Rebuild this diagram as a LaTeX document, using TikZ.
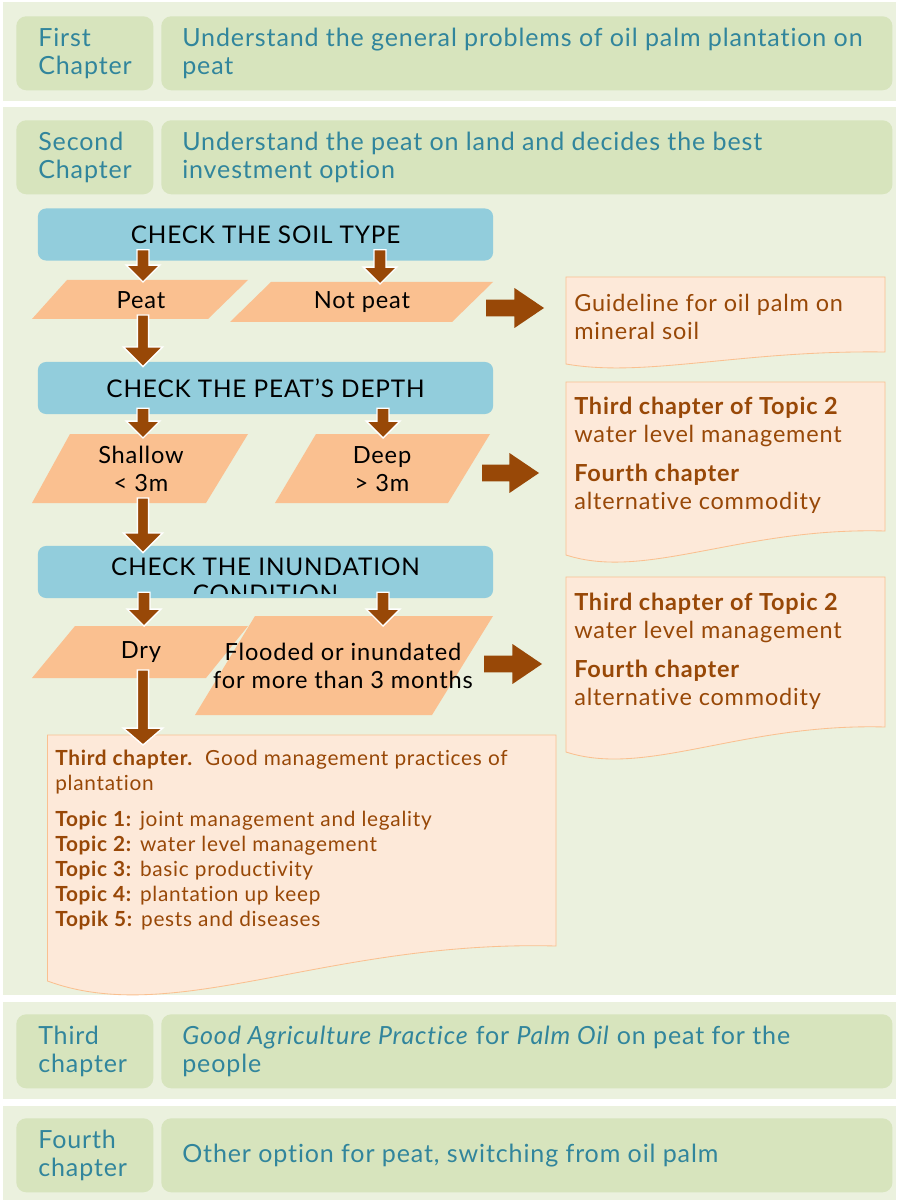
\documentclass[tikz,border=0pt]{standalone}
\usepackage{fontspec}
\setmainfont{Lato}[LetterSpace=3.5, Ligatures=NoCommon]
\usetikzlibrary{calc}

\definecolor{panelbg}{HTML}{EBF1DE}
\definecolor{chapgreen}{HTML}{D7E4BD}
\definecolor{chapteal}{HTML}{31859C}
\definecolor{checkblue}{HTML}{92CDDC}
\definecolor{choiceorange}{HTML}{FAC090}
\definecolor{arrowbrown}{HTML}{984807}
\definecolor{docfill}{HTML}{FDE9D9}

% block arrows: from, to, shaft half width, head half width, head length
\newcommand\flowdown[5]{%
  \filldraw[fill=arrowbrown, draw=white, line width=1pt] let \p1=(#1), \p2=(#2) in
    (\x1-#3,\y1) -- (\x1+#3,\y1) -- (\x1+#3,\y2+#5) -- (\x1+#4,\y2+#5)
    -- (\x1,\y2) -- (\x1-#4,\y2+#5) -- (\x1-#3,\y2+#5) -- cycle;}
\newcommand\flowright[5]{%
  \fill[arrowbrown] let \p1=(#1), \p2=(#2) in
    (\x1,\y1+#3) -- (\x2-#5,\y1+#3) -- (\x2-#5,\y1+#4) -- (\x2,\y1)
    -- (\x2-#5,\y1-#4) -- (\x2-#5,\y1-#3) -- (\x1,\y1-#3) -- cycle;}

\begin{document}
\begin{tikzpicture}[x=0.025cm, y=-0.025cm,
    chapbox/.style={fill=chapgreen, rounded corners=0.25cm, anchor=north west, minimum height=1.85cm},
    labbox/.style={chapbox, minimum width=3.425cm},
    txtbox/.style={chapbox, minimum width=18.275cm},
    chaptext/.style={anchor=west, inner sep=0pt, align=left, text=chapteal, font=\fontsize{17.8}{19.8}\selectfont},
    check/.style={fill=checkblue, rounded corners=0.2cm, minimum width=11.375cm, minimum height=1.3cm, font=\fontsize{17.3}{19.1}\selectfont},
    choice/.style={fill=choiceorange},
    choicetext/.style={align=center, inner sep=0pt, font=\fontsize{16.8}{19.8}\selectfont},
    doc/.style={fill=docfill, draw=choiceorange, line width=0.6pt},
    doctext/.style={anchor=north west, inner sep=0pt, align=left, text=arrowbrown, font=\fontsize{16.7}{19.8}\selectfont},
    gmptext/.style={doctext, font=\fontsize{14.8}{17.7}\selectfont}
  ]
  \useasboundingbox (0,0) rectangle (897,1200);
  \fill[white] (0,0) rectangle (897,1200);

  % First chapter
  \fill[panelbg] (3,2) rectangle (896,101);
  \node[labbox] (lab1) at (16,16) {};
  \node[txtbox] (box1) at (161,16) {};
  \node[chaptext] (first) at ([xshift=0.55cm]lab1.west) {First\\Chapter};
  \node[chaptext] (firsttxt) at ([xshift=0.525cm]box1.west) {Understand the general problems of oil palm plantation on\\peat};

  % Second chapter
  \fill[panelbg] (3,107) rectangle (896,995);
  \node[labbox] (lab2) at (16,120) {};
  \node[txtbox] (box2) at (161,120) {};
  \node[chaptext] (second) at ([xshift=0.55cm]lab2.west) {Second\\Chapter};
  \node[chaptext] (secondtxt) at ([xshift=0.525cm]box2.west) {Understand the peat on land and decides the best\\investment option};

  % checks
  \node[check] (soil) at (265.5,234.5) {CHECK THE SOIL TYPE};
  \node[check] (depth) at (265.5,388) {CHECK THE PEAT'S DEPTH};
  \node[check] (inund) at (265.5,572) {};
  \begin{scope}
    \clip (38,546) rectangle (493,593);
    \node[align=center, font=\fontsize{17.3}{19.1}\selectfont] (inundtxt) at (265.5,580) {CHECK THE INUNDATION\\CONDITION};
  \end{scope}

  % choices
  \fill[choice] (67,280) -- (248,280) -- (208,319) -- (32,319) -- cycle;
  \node[choicetext] (peat) at (141,300) {Peat};
  \fill[choice] (271,282) -- (493,282) -- (452,322) -- (230,322) -- cycle;
  \node[choicetext] (notpeat) at (362,302) {Not peat};
  \fill[choice] (70,434) -- (248,434) -- (206,503) -- (32,503) -- cycle;
  \node[choicetext] (shallow) at (141,469) {Shallow\\< 3m};
  \fill[choice] (316,434) -- (490,434) -- (448,503) -- (275,503) -- cycle;
  \node[choicetext] (deep) at (382,469) {Deep\\> 3m};
  \fill[choice] (75,626) -- (248,626) -- (206,678) -- (32,678) -- cycle;
  \node[choicetext] (dry) at (141,652) {Dry};
  \fill[choice] (255,616) -- (493,616) -- (432,715) -- (195,715) -- cycle;
  \node[choicetext] (flooded) at (343,665.5) {Flooded or inundated\\for more than 3 months};

  % results
  \filldraw[doc] (566,277) -- (885,277) -- (885,352) .. controls (741,350) and (646,378) .. (566,364) -- cycle;
  \node[doctext] (mineral) at (574,294) {Guideline for oil palm on\\mineral soil};
  \filldraw[doc] (566,382) -- (885,382) -- (885,531) .. controls (741,527) and (646,581) .. (566,555) -- cycle;
  \node[doctext] (deepdoc) at (574,397) {\textbf{Third chapter of Topic 2}\\water level management\\[7.8pt]\textbf{Fourth chapter}\\alternative commodity};
  \filldraw[doc] (566,577) -- (885,577) -- (885,727) .. controls (741,723) and (646,778) .. (566,752) -- cycle;
  \node[doctext] (flooddoc) at (574,593) {\textbf{Third chapter of Topic 2}\\water level management\\[7.8pt]\textbf{Fourth chapter}\\alternative commodity};
  \filldraw[doc] (47.5,735) -- (556,735) -- (556,946) .. controls (327,940) and (175,1028) .. (47.5,981) -- cycle;
  \node[gmptext] (gmp) at (55,750) {\textbf{Third chapter.}\ \ Good management practices of\\plantation\\[7.8pt]%
    \textbf{Topic 1:} joint management and legality\\\textbf{Topic 2:} water level management\\%
    \textbf{Topic 3:} basic productivity\\\textbf{Topic 4:} plantation up keep\\\textbf{Topik 5:} pests and diseases};

  % arrows
  \coordinate (peatIn) at (143,282);
  \coordinate (notpeatIn) at (380,284);
  \coordinate (peatOut) at (143,315);
  \coordinate (shallowIn) at (143,438);
  \coordinate (deepIn) at (383,438);
  \coordinate (shallowOut) at (143,498);
  \coordinate (dryIn) at (144,626);
  \coordinate (floodedIn) at (383,626);
  \coordinate (dryOut) at (143,670);
  \coordinate (gmpIn) at (143,745);
  \coordinate (notpeatOut) at (486,308);
  \coordinate (mineralIn) at (544,308);
  \coordinate (deepOut) at (482,473);
  \coordinate (deepdocIn) at (539,473);
  \coordinate (floodedOut) at (484,664);
  \coordinate (flooddocIn) at (542,664);

  \flowdown{$(soil.south -| peatIn)+(0,-11)$}{peatIn}{4.25pt}{12pt}{12pt}
  \flowdown{$(soil.south -| notpeatIn)+(0,-11)$}{notpeatIn}{4.25pt}{12pt}{12pt}
  \flowdown{peatOut}{$(depth.north -| peatOut)+(0,5)$}{4pt}{14pt}{14pt}
  \flowdown{$(depth.south -| shallowIn)+(0,-6)$}{shallowIn}{4.25pt}{12pt}{12pt}
  \flowdown{$(depth.south -| deepIn)+(0,-6)$}{deepIn}{4.25pt}{12pt}{12pt}
  \flowdown{shallowOut}{$(inund.north -| shallowOut)+(0,7)$}{4pt}{14pt}{14pt}
  \flowdown{$(inund.south -| dryIn)+(0,-6)$}{dryIn}{4.25pt}{12pt}{12pt}
  \flowdown{$(inund.south -| floodedIn)+(0,-6)$}{floodedIn}{4.25pt}{12pt}{12pt}
  \flowdown{dryOut}{gmpIn}{4pt}{14pt}{12pt}
  \flowright{notpeatOut}{mineralIn}{6pt}{14.2pt}{21pt}
  \flowright{deepOut}{deepdocIn}{6pt}{14.2pt}{21pt}
  \flowright{floodedOut}{flooddocIn}{6pt}{14.2pt}{21pt}

  % Third chapter
  \fill[panelbg] (3,1002) rectangle (896,1099);
  \node[labbox] (lab3) at (16,1014) {};
  \node[txtbox] (box3) at (161,1014) {};
  \node[chaptext] (third) at ([xshift=0.55cm]lab3.west) {Third\\chapter};
  \node[chaptext] (thirdtxt) at ([xshift=0.525cm]box3.west) {\textit{Good Agriculture Practice} for \textit{Palm Oil} on peat for the\\people};

  % Fourth chapter
  \fill[panelbg] (3,1106) rectangle (896,1200);
  \node[labbox] (lab4) at (16,1118) {};
  \node[txtbox] (box4) at (161,1118) {};
  \node[chaptext] (fourth) at ([xshift=0.55cm]lab4.west) {Fourth\\chapter};
  \node[chaptext] (fourthtxt) at ([xshift=0.525cm]box4.west) {Other option for peat, switching from oil palm};
\end{tikzpicture}
\end{document}
